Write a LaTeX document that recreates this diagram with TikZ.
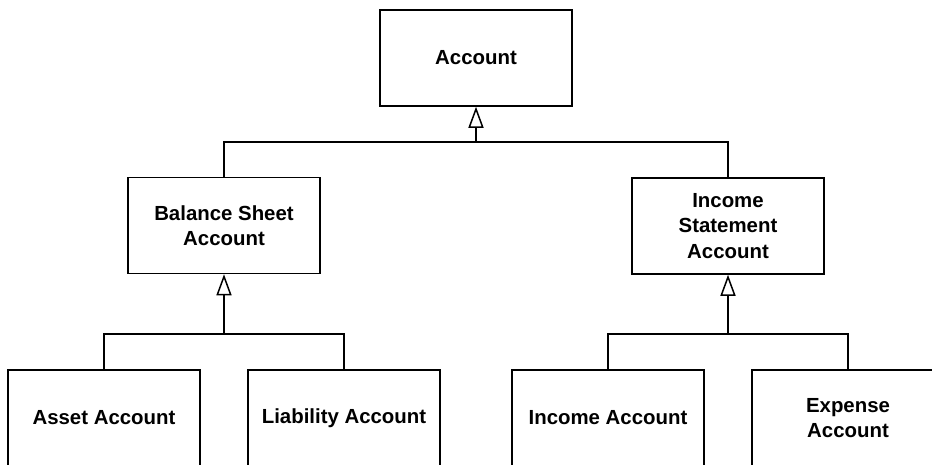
\documentclass[tikz,border=0pt]{standalone}
\usepackage{fontspec}
\setmainfont{Liberation Sans}
\usepackage{tikz}
\usetikzlibrary{arrows.meta}
\tikzset{class box/.style={draw, line width=1.5pt, minimum width=192pt, minimum height=96pt, inner sep=0, align=center, font=\fontsize{20.4}{25.5}\selectfont\bfseries}}
\tikzset{gen/.style={-{Triangle[open, width=15pt, length=21pt, line width=1.5pt]}}}
\tikzset{every edge/.style={draw, line width=1.5pt}}

\begin{document}
\begin{tikzpicture}[x=1pt, y=-1pt, line width=1.5pt]
  \clip (0, 0) rectangle (932, 464);

  \node[class box] at (476, 58) (acc) {Account};

  \node[class box] at (224, 225.5) (bal) {Balance Sheet\\Account};
  \node[class box] at (728, 226) (inc) {Income\\Statement\\Account};

  \node[class box] at (104, 418) (asset) {Asset Account};
  \node[class box] at (344, 418) (liab) {Liability Account};
  \node[class box] at (608, 418) (incacc) {Income Account};
  \node[class box] at (848, 418) (exp) {Expense\\Account};

  \coordinate (j0) at (476, 142);
  \coordinate (j1) at (224, 334);
  \coordinate (j2) at (728, 334);

  \draw (bal.north) |- (j0) -| (inc.north);
  \draw (j0) edge[gen] (acc);

  \draw (asset.north) |- (j1) -| (liab.north);
  \draw (j1) edge[gen] (bal);

  \draw (incacc.north) |- (j2) -| (exp.north);
  \draw (j2) edge[gen] (inc);
\end{tikzpicture}
\end{document}
